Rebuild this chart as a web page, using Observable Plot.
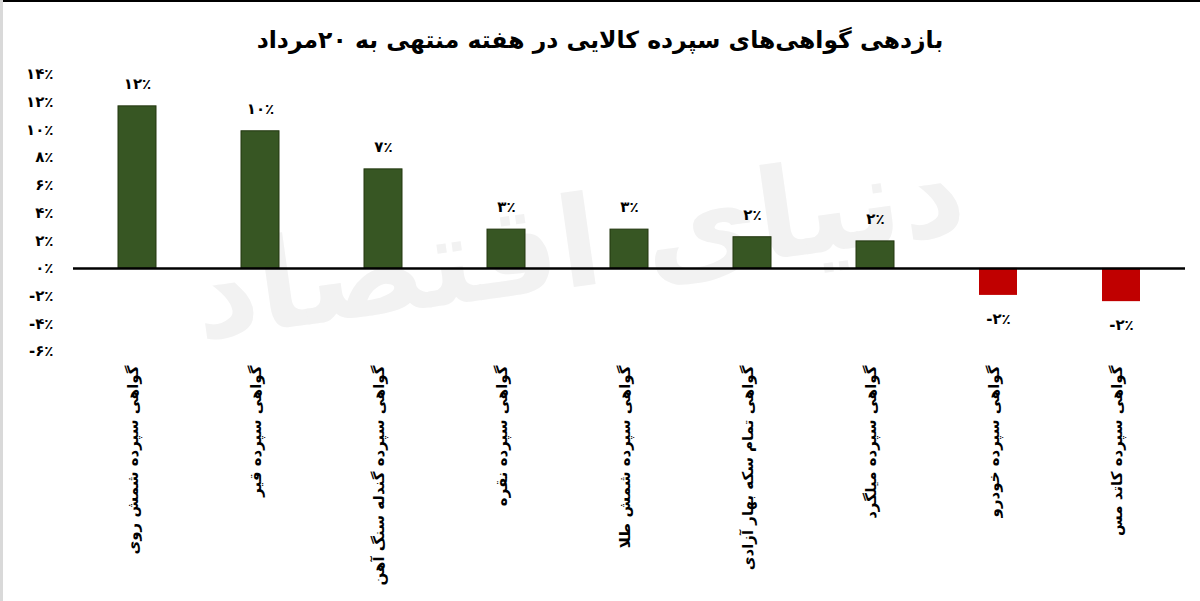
<!DOCTYPE html>
<html>
<head>
<meta charset="utf-8">
<script src="https://cdn.jsdelivr.net/npm/d3@7"></script>
<script src="https://cdn.jsdelivr.net/npm/@observablehq/plot@0.6"></script>
<style>
html, body { margin: 0; padding: 0; background: #fff; }
body { width: 1200px; height: 601px; position: relative; overflow: hidden; font-family: "DejaVu Sans", sans-serif; }
#topline { position: absolute; left: 0; top: 0; width: 1200px; height: 2px; background: #000; }
#leftline { position: absolute; left: 0; top: 0; width: 3px; height: 601px; background: #d9d9d9; }
#title { height: 65px; line-height: 80px; text-align: center; font-weight: bold; font-size: 23.5px; color: #000; direction: rtl; }
#watermark { position: absolute; left: 190px; top: 170px; font-size: 125px; font-weight: bold; color: #f2f2f2; direction: rtl; transform: rotate(-8deg); z-index: 0; white-space: nowrap; }
#chart { position: relative; z-index: 1; }
</style>
</head>
<body>
<div id="topline"></div>
<div id="leftline"></div>
<div id="watermark">دنیای اقتصاد</div>
<div id="title">بازدهی گواهی‌های سپرده کالایی در هفته منتهی به ۲۰مرداد</div>
<div id="chart"></div>
<script>
const categories = [
  "گواهی سپرده شمش روی",
  "گواهی سپرده قیر",
  "گواهی سپرده گندله سنگ آهن",
  "گواهی سپرده نقره",
  "گواهی سپرده شمش طلا",
  "گواهی تمام سکه بهار آزادی",
  "گواهی سپرده میلگرد",
  "گواهی سپرده خودرو",
  "گواهی سپرده کاتد مس"
];
const values = [11.7, 9.9, 7.15, 2.8, 2.8, 2.25, 1.95, -1.95, -2.4];
const valueLabels = ["۱۲٪", "۱۰٪", "۷٪", "۳٪", "۳٪", "۲٪", "۲٪", "-۲٪", "-۲٪"];
const yTicks = [-6, -4, -2, 0, 2, 4, 6, 8, 10, 12, 14];

const persianDigits = "۰۱۲۳۴۵۶۷۸۹";
const toPersian = n => String(n).replace(/\d/g, d => persianDigits[+d]);
const fmtPct = v => toPersian(v) + "٪";

const data = categories.map((c, i) => ({category: c, value: values[i], label: valueLabels[i]}));

const green = "#375623";
const red = "#c00000";
const font = "DejaVu Sans";

const chart = Plot.plot({
  width: 1200,
  height: 536,
  marginTop: 9,
  marginBottom: 250,
  marginLeft: 73,
  marginRight: 15,
  x: {domain: categories, paddingInner: 0.69, paddingOuter: 0.345, axis: null},
  y: {domain: [-6, 14], axis: null},
  style: {background: "transparent", fontFamily: font, color: "#000"},
  marks: [
    Plot.barY(data, {filter: d => d.value >= 0, x: "category", y: "value", fill: green, stroke: "#22360f", strokeWidth: 1}),
    Plot.barY(data, {filter: d => d.value < 0, x: "category", y: "value", fill: red}),
    Plot.ruleY([0], {stroke: "#000", strokeWidth: 2.5}),
    Plot.axisY(yTicks, {label: null, tickSize: 0, tickPadding: 20, tickFormat: fmtPct, fontSize: 15, fontWeight: "bold", fill: "#000"}),
    Plot.text(data, {x: "category", y: "value", text: "label", fontSize: 15, fontWeight: "bold", fill: "#000",
      filter: d => d.value >= 0, dy: -22}),
    Plot.text(data, {x: "category", y: "value", text: "label", fontSize: 15, fontWeight: "bold", fill: "#000",
      filter: d => d.value < 0, dy: 24}),
    Plot.text(data, {x: "category", text: "category", frameAnchor: "bottom", rotate: -90, textAnchor: "end",
      dy: 14, fontSize: 15, fontWeight: "bold", fill: "#000"})
  ]
});
document.getElementById("chart").appendChild(chart);
</script>
</body>
</html>
